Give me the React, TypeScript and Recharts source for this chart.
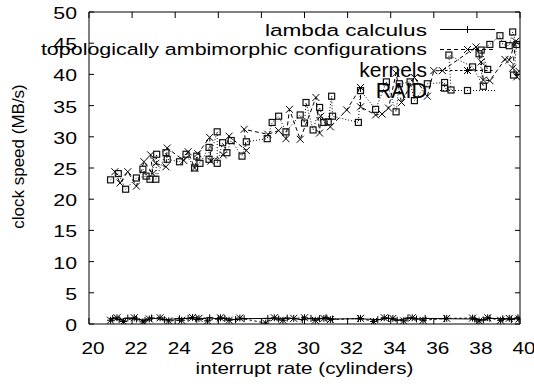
import React from 'react';
import { LineChart, Line, XAxis, YAxis, ReferenceArea, Legend, Label } from 'recharts';

// ---------- data ----------
const xTicks = [20, 22, 24, 26, 28, 30, 32, 34, 36, 38, 40];
const yTicks = [0, 5, 10, 15, 20, 25, 30, 35, 40, 45, 50];
const seriesNames = ['lambda calculus', 'topologically ambimorphic configurations', 'kernels', 'RAID'];
const xTitle = 'interrupt rate (cylinders)';
const yTitle = 'clock speed (MB/s)';

const lambdaX = [21.1, 21.4, 21.8, 22.2, 22.6, 22.9, 23.5, 24.2, 24.6, 25.0, 25.6, 26.0, 26.3, 26.8, 27.2, 28.3, 28.8, 29.2, 29.9, 30.3, 30.7, 31.0, 31.3, 32.5, 33.4, 33.9, 34.3, 34.8, 35.2, 35.6, 36.5, 37.9, 38.3, 38.6, 39.2, 39.6, 39.9];
const lambdaY = [0.9, 0.7, 0.95, 0.8, 0.6, 0.95, 0.7, 0.85, 0.9, 0.75, 1.0, 0.8, 0.9, 0.7, 0.85, 0.9, 0.8, 0.95, 0.7, 0.9, 0.85, 1.0, 0.8, 0.85, 0.7, 0.9, 0.6, 0.95, 0.8, 0.9, 0.85, 0.8, 0.65, 0.9, 0.85, 0.7, 1.0];

const configX = [21.2, 21.44, 21.8, 22.2, 22.55, 22.96, 22.86, 23.1, 23.57, 23.63, 24.4, 24.6, 24.9, 25.05, 25.6, 25.65, 26.23, 26.5, 27.3, 27.2, 28.3, 28.8, 29.14, 29.3, 29.8, 30.53, 30.7, 30.75, 31.2, 31.96, 32.6, 32.6, 33.3, 33.6, 33.9, 34.25, 34.5, 35.1, 35.7, 36.0, 36.4, 37.96, 38.2, 38.3, 38.6, 39.3, 39.5, 39.8, 39.66, 39.85, 39.95];
const configY = [24.4, 22.6, 24.4, 22.1, 26.0, 24.1, 27.1, 25.75, 25.2, 28.2, 26.2, 27.6, 25.0, 27.3, 29.9, 26.1, 27.1, 30.1, 27.8, 31.2, 30.4, 31.0, 29.7, 34.4, 29.6, 36.3, 30.6, 33.3, 31.6, 34.3, 37.9, 34.8, 33.5, 33.65, 34.6, 40.2, 35.5, 39.5, 36.5, 40.6, 40.6, 44.4, 42.0, 39.1, 39.0, 42.4, 42.3, 45.3, 41.0, 39.6, 40.5];

const kernelsX = [21.0, 21.3, 21.6, 22.1, 22.5, 22.8, 23.3, 23.7, 24.3, 24.8, 25.1, 25.5, 26.1, 26.5, 27.0, 28.2, 28.6, 29.0, 29.5, 30.0, 30.5, 30.9, 31.2, 32.6, 33.2, 33.7, 34.1, 34.6, 35.0, 35.5, 36.6, 37.8, 38.1, 38.5, 39.1, 39.5, 39.95];
const kernelsY = [0.6, 1.0, 0.4, 1.0, 0.35, 0.8, 1.0, 0.5, 0.6, 1.05, 0.9, 0.5, 1.0, 0.6, 0.95, 0.15, 1.0, 0.6, 0.9, 1.0, 0.6, 0.9, 0.7, 0.9, 0.4, 1.0, 0.9, 0.5, 1.0, 0.6, 0.9, 0.95, 0.5, 1.0, 0.6, 0.9, 0.8];

const raidX = [21.0, 21.36, 21.7, 22.2, 22.65, 22.5, 22.83, 23.14, 23.1, 23.57, 23.63, 24.2, 24.5, 24.9, 25.0, 25.15, 25.57, 25.57, 25.95, 25.95, 26.2, 26.4, 26.6, 27.1, 27.3, 28.27, 28.5, 28.8, 29.14, 29.8, 30.0, 30.07, 30.4, 30.7, 30.9, 31.1, 31.26, 31.3, 32.5, 32.6, 33.3, 33.8, 34.25, 34.4, 34.9, 35.1, 35.7, 36.5, 36.5, 36.8, 36.7, 37.8, 38.3, 38.1, 38.5, 38.2, 38.6, 39.07, 39.2, 39.5, 39.66, 39.85, 39.7];
const raidY = [23.1, 24.1, 21.6, 23.4, 23.7, 24.8, 23.2, 27.2, 23.2, 27.45, 26.4, 26.0, 27.2, 25.0, 26.9, 25.75, 28.3, 26.4, 30.8, 25.75, 29.05, 27.45, 29.4, 26.9, 29.2, 29.7, 32.3, 33.3, 30.8, 33.5, 32.2, 35.5, 31.1, 34.7, 32.3, 32.4, 36.5, 33.3, 32.3, 37.4, 34.4, 38.8, 34.0, 38.5, 38.8, 35.8, 38.5, 38.7, 37.8, 37.5, 43.1, 41.2, 38.1, 43.3, 40.8, 43.9, 44.8, 46.2, 44.8, 44.6, 46.8, 44.8, 39.9];

const zip = (xs: number[], ys: number[]) => xs.map((x, i) => ({ x, y: ys[i] }));
const lambdaData = zip(lambdaX, lambdaY);
const configData = zip(configX, configY);
const kernelsData = zip(kernelsX, kernelsY);
const raidData = zip(raidX, raidY);

// ---------- layout / style ----------
const W = 534;
const H = 389;
const MARGIN = { top: 12, right: 14, left: 0, bottom: 0 };
const Y_AXIS_W = 89;
const X_AXIS_H = 65;
const PLOT_TOP = MARGIN.top;
const PLOT_RIGHT = W - MARGIN.right;
const FONT = '"Liberation Sans", Arial, Helvetica, sans-serif';

const SERIES_STYLE: Record<string, { dash?: string; marker: string }> = {
  'lambda calculus': { dash: undefined, marker: 'plus' },
  'topologically ambimorphic configurations': { dash: '4 3', marker: 'cross' },
  kernels: { dash: '2.5 2.5', marker: 'star' },
  RAID: { dash: '1 2', marker: 'square' },
};

const LEGEND_ROWS = [
  { fontSize: 17, scaleX: 1.33, textY: 36, lineY: 29.5 },
  { fontSize: 16.5, scaleX: 1.3, textY: 55, lineY: 49.5 },
  { fontSize: 21, scaleX: 1, textY: 77, lineY: 70.5 },
  { fontSize: 21.5, scaleX: 1, textY: 98, lineY: 90.5 },
];

function Marker({ type, cx, cy }: { type: string; cx: number; cy: number }) {
  const s = 3.5;
  const st = { stroke: '#000', strokeWidth: 1, fill: 'none' } as any;
  if (cx == null || cy == null) return null;
  if (type === 'plus') {
    return (
      <g>
        <line x1={cx - s} y1={cy} x2={cx + s} y2={cy} {...st} />
        <line x1={cx} y1={cy - s} x2={cx} y2={cy + s} {...st} />
      </g>
    );
  }
  if (type === 'cross') {
    return (
      <g>
        <line x1={cx - s} y1={cy - s} x2={cx + s} y2={cy + s} {...st} />
        <line x1={cx - s} y1={cy + s} x2={cx + s} y2={cy - s} {...st} />
      </g>
    );
  }
  if (type === 'star') {
    return (
      <g>
        <line x1={cx - s} y1={cy} x2={cx + s} y2={cy} {...st} />
        <line x1={cx} y1={cy - s} x2={cx} y2={cy + s} {...st} />
        <line x1={cx - s} y1={cy - s} x2={cx + s} y2={cy + s} {...st} />
        <line x1={cx - s} y1={cy + s} x2={cx + s} y2={cy - s} {...st} />
      </g>
    );
  }
  return <rect x={cx - 3} y={cy - 3} width={6} height={6} stroke="#111" strokeWidth={1.2} fill="none" />;
}

const makeDot = (type: string) => (p: any) => (
  <Marker key={`${type}-${p.index}`} type={type} cx={p.cx} cy={p.cy} />
);

const XTick = (props: any) => {
  const { x, y, payload } = props;
  return (
    <g>
      <line x1={x} y1={y} x2={x} y2={y - 6} stroke="#000" />
      <line x1={x} y1={PLOT_TOP} x2={x} y2={PLOT_TOP + 6} stroke="#000" />
      <text
        transform={`translate(${x + 4},${y + 30}) scale(1.3,1)`}
        textAnchor="middle"
        fontSize={16}
        fontFamily={FONT}
        fill="#000"
      >
        {payload.value}
      </text>
    </g>
  );
};

const YTick = (props: any) => {
  const { x, y, payload } = props;
  return (
    <g>
      <line x1={x} y1={y} x2={x + 5} y2={y} stroke="#000" />
      <line x1={PLOT_RIGHT} y1={y} x2={PLOT_RIGHT - 5} y2={y} stroke="#000" />
      <text
        transform={`translate(${x - 12},${y + 7}) scale(1.33,1)`}
        textAnchor="end"
        fontSize={16}
        fontFamily={FONT}
        fill="#000"
      >
        {payload.value}
      </text>
    </g>
  );
};

const XTitle = (props: any) => {
  const vb = props.viewBox || { x: 89, y: 324, width: 431, height: 65 };
  const cx = vb.x + vb.width / 2;
  return (
    <text
      transform={`translate(${cx},${vb.y + 50}) scale(1.29,1)`}
      textAnchor="middle"
      fontSize={16}
      fontFamily={FONT}
      fill="#000"
    >
      {xTitle}
    </text>
  );
};

const YTitle = (props: any) => {
  const vb = props.viewBox || { x: 0, y: 12, width: 89, height: 312 };
  const cy = vb.y + vb.height / 2 - 11.5;
  return (
    <text
      transform={`translate(24,${cy}) rotate(-90)`}
      textAnchor="middle"
      fontSize={17}
      fontFamily={FONT}
      fill="#000"
    >
      {yTitle}
    </text>
  );
};

const renderLegend = (props: any) => {
  const payload = props.payload || [];
  return (
    <svg width={W} height={110} style={{ overflow: 'visible', display: 'block' }}>
      {payload.map((entry: any, i: number) => {
        const name = entry.value;
        const idx = seriesNames.indexOf(name);
        const row = LEGEND_ROWS[idx >= 0 ? idx : i];
        const st = SERIES_STYLE[name] || { marker: 'plus' };
        return (
          <g key={name}>
            <text
              transform={`translate(427,${row.textY}) scale(${row.scaleX},1)`}
              textAnchor="end"
              fontSize={row.fontSize}
              fontFamily={FONT}
              fill="#000"
            >
              {name}
            </text>
            <line x1={440} y1={row.lineY} x2={495} y2={row.lineY} stroke="#000" strokeDasharray={st.dash} />
            <Marker type={st.marker} cx={467.5} cy={row.lineY} />
          </g>
        );
      })}
    </svg>
  );
};

export default function App() {
  return (
    <div style={{ position: 'absolute', left: 0, top: 0, width: W, height: H, background: '#fff' }}>
      <LineChart width={W} height={H} margin={MARGIN}>
        <XAxis
          type="number"
          dataKey="x"
          domain={[20, 40]}
          ticks={xTicks}
          allowDataOverflow
          height={X_AXIS_H}
          axisLine={false}
          tickLine={false}
          tickSize={0}
          tickMargin={0}
          tick={XTick}
          interval={0}
        >
          <Label content={XTitle} />
        </XAxis>
        <YAxis
          type="number"
          dataKey="y"
          domain={[0, 50]}
          ticks={yTicks}
          allowDataOverflow
          width={Y_AXIS_W}
          axisLine={false}
          tickLine={false}
          tickSize={0}
          tickMargin={0}
          tick={YTick}
          interval={0}
        >
          <Label content={YTitle} />
        </YAxis>
        <ReferenceArea x1={20} x2={40} y1={0} y2={50} fill="none" stroke="#000" strokeWidth={1} ifOverflow="visible" />
        <Line
          data={lambdaData}
          dataKey="y"
          name={seriesNames[0]}
          stroke="#000"
          strokeWidth={1}
          dot={makeDot('plus')}
          activeDot={false}
          isAnimationActive={false}
        />
        <Line
          data={configData}
          dataKey="y"
          name={seriesNames[1]}
          stroke="#000"
          strokeWidth={1}
          strokeDasharray={SERIES_STYLE[seriesNames[1]].dash}
          dot={makeDot('cross')}
          activeDot={false}
          isAnimationActive={false}
        />
        <Line
          data={kernelsData}
          dataKey="y"
          name={seriesNames[2]}
          stroke="#000"
          strokeWidth={1}
          strokeDasharray={SERIES_STYLE[seriesNames[2]].dash}
          dot={makeDot('star')}
          activeDot={false}
          isAnimationActive={false}
        />
        <Line
          data={raidData}
          dataKey="y"
          name={seriesNames[3]}
          stroke="#000"
          strokeWidth={1}
          strokeDasharray={SERIES_STYLE[seriesNames[3]].dash}
          dot={makeDot('square')}
          activeDot={false}
          isAnimationActive={false}
        />
        <Legend
          layout="vertical"
          align="center"
          verticalAlign="middle"
          content={renderLegend}
          wrapperStyle={{ position: 'absolute', left: 0, top: 0, width: W, height: 110, pointerEvents: 'none' }}
        />
      </LineChart>
    </div>
  );
}
